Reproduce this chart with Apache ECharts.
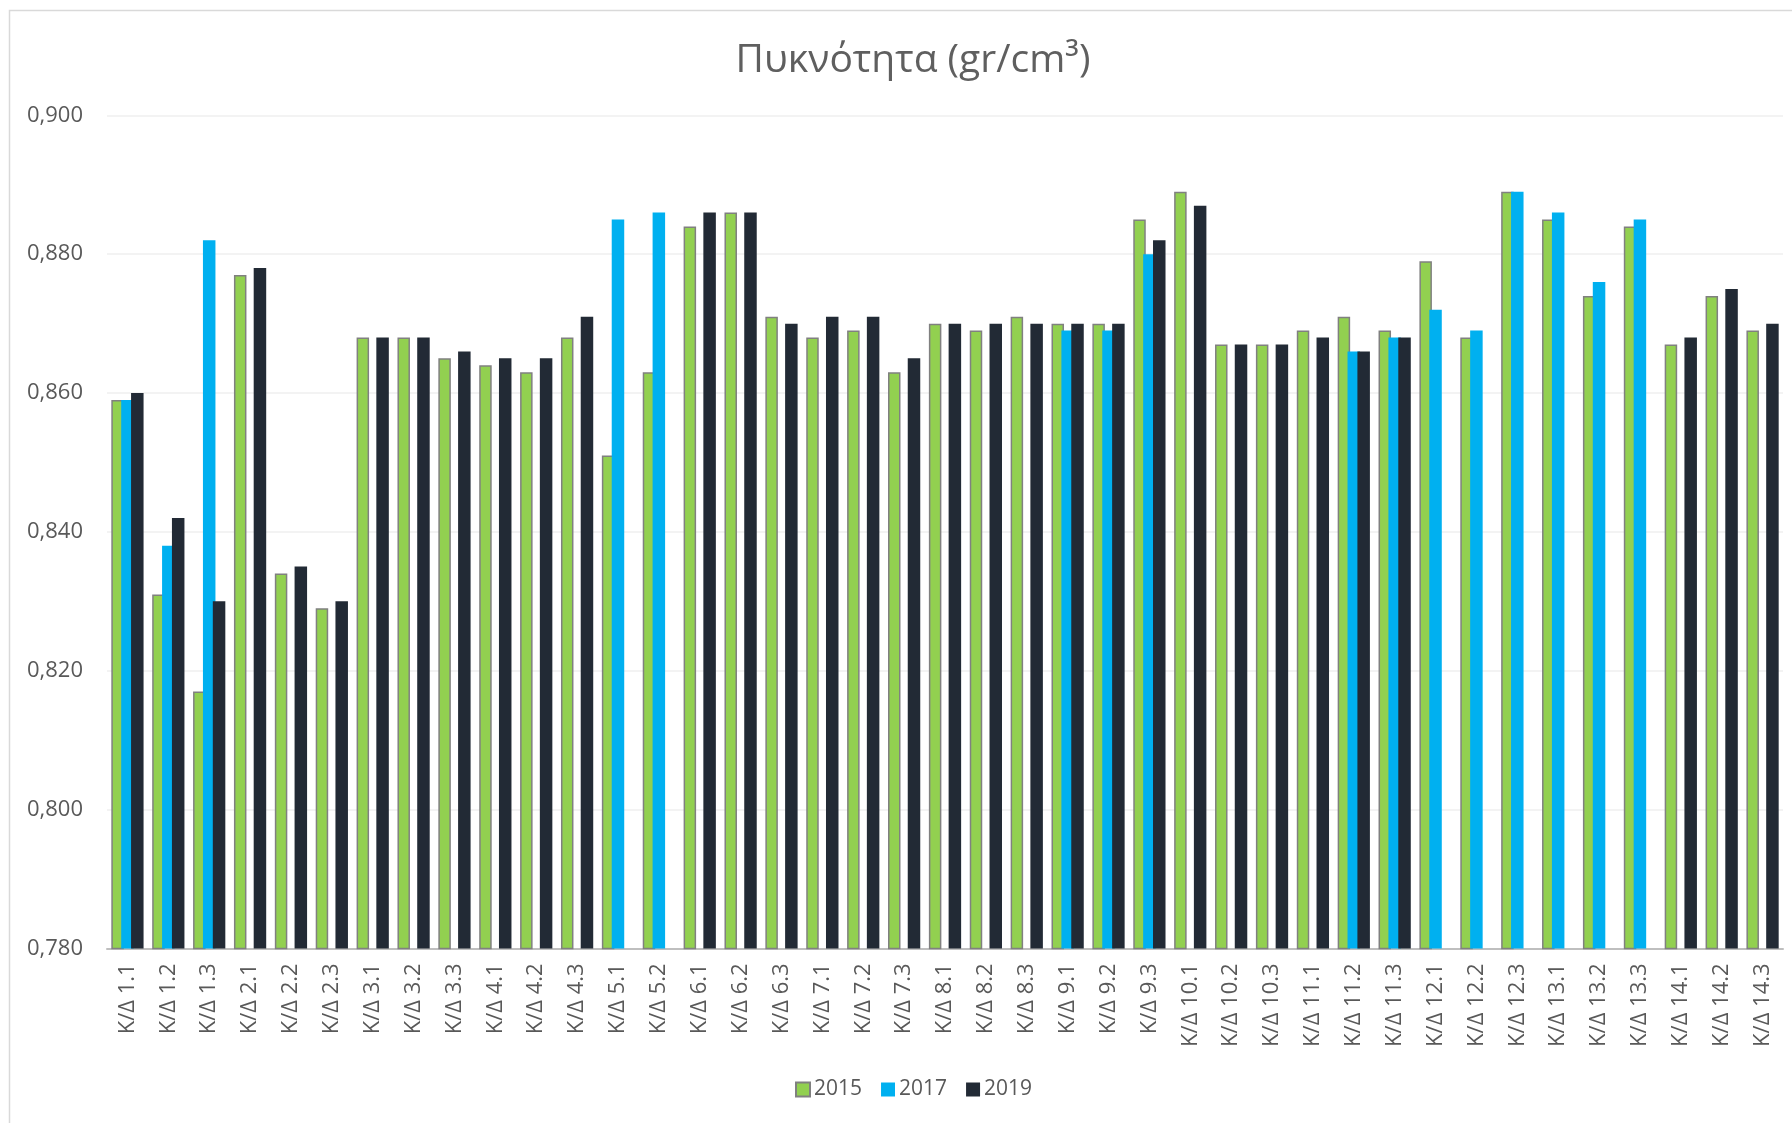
<!DOCTYPE html>
<html>
<head>
<meta charset="utf-8">
<script src="https://cdn.jsdelivr.net/npm/echarts@6/dist/echarts.min.js"></script>
<style>
html,body{margin:0;padding:0;background:#fff;}
#chart{width:1792px;height:1123px;}
</style>
</head>
<body>
<div id="chart"></div>
<script>
const categories = ['1.1','1.2','1.3','2.1','2.2','2.3','3.1','3.2','3.3','4.1','4.2','4.3','5.1','5.2','6.1','6.2','6.3','7.1','7.2','7.3','8.1','8.2','8.3','9.1','9.2','9.3','10.1','10.2','10.3','11.1','11.2','11.3','12.1','12.2','12.3','13.1','13.2','13.3','14.1','14.2','14.3'].map(s => 'Κ/Δ ' + s);
const s2015 = [0.859,0.831,0.817,0.877,0.834,0.829,0.868,0.868,0.865,0.864,0.863,0.868,0.851,0.863,0.884,0.886,0.871,0.868,0.869,0.863,0.870,0.869,0.871,0.870,0.870,0.885,0.889,0.867,0.867,0.869,0.871,0.869,0.879,0.868,0.889,0.885,0.874,0.884,0.867,0.874,0.869];
const s2017 = [0.859,0.838,0.882,null,null,null,null,null,null,null,null,null,0.885,0.886,null,null,null,null,null,null,null,null,null,0.869,0.869,0.880,null,null,null,null,0.866,0.868,0.872,0.869,0.889,0.886,0.876,0.885,null,null,null];
const s2019 = [0.860,0.842,0.830,0.878,0.835,0.830,0.868,0.868,0.866,0.865,0.865,0.871,null,null,0.886,0.886,0.870,0.871,0.871,0.865,0.870,0.870,0.870,0.870,0.870,0.882,0.887,0.867,0.867,0.868,0.866,0.868,null,null,null,null,null,null,0.868,0.875,0.870];
const seriesNames = ['2015','2017','2019'];
const yTicks = {min: 0.78, max: 0.9, interval: 0.02};

const FONT = '"Open Sans", "DejaVu Sans", sans-serif';
const TXT = '#595959';
const chart = echarts.init(document.getElementById('chart'));
const barW = 12.5;
const gap = '-21%';
chart.setOption({
  animation: false,
  backgroundColor: '#fff',
  textStyle: {fontFamily: FONT},
  title: {
    text: 'Πυκνότητα (gr/cm³)',
    left: 908, top: 36, textAlign: 'center',
    textStyle: {fontFamily: FONT, fontSize: 39, fontWeight: 'normal', color: '#5f5f5f'}
  },
  graphic: [{
    type: 'rect', silent: true, z: -10,
    shape: {x: 9.5, y: 10.5, width: 1800, height: 1130},
    style: {fill: 'none', stroke: '#d9d9d9', lineWidth: 1.5}
  }],
  legend: {
    data: seriesNames,
    left: 790, top: 1074,
    itemWidth: 14, itemHeight: 14, itemGap: 19,
    icon: 'rect',
    textStyle: {fontFamily: FONT, fontSize: 21, color: TXT, padding: [0,0,0,-1]}
  },
  grid: {left: 107, right: 9, top: 115.4, bottom: 174.6},
  xAxis: {
    type: 'category',
    data: categories,
    axisLine: {lineStyle: {color: '#bfbfbf', width: 2}},
    axisTick: {show: false},
    axisLabel: {rotate: 90, margin: 15, fontSize: 22, color: TXT, fontFamily: FONT, interval: 0}
  },
  yAxis: {
    type: 'value',
    min: yTicks.min, max: yTicks.max, interval: yTicks.interval,
    axisLine: {show: false},
    axisTick: {show: false},
    splitLine: {lineStyle: {color: '#efefef', width: 1.5}},
    axisLabel: {
      margin: 24, fontSize: 22, color: TXT, fontFamily: FONT,
      formatter: v => v.toFixed(3).replace('.', ',')
    }
  },
  series: [
    {name: seriesNames[0], type: 'bar', data: s2015, barWidth: barW, barGap: gap,
     itemStyle: {color: '#92d050', borderColor: '#808080', borderWidth: 1.5}},
    {name: seriesNames[1], type: 'bar', data: s2017, barWidth: barW, barGap: gap,
     itemStyle: {color: '#00b0f0'}},
    {name: seriesNames[2], type: 'bar', data: s2019, barWidth: barW, barGap: gap,
     itemStyle: {color: '#222a35'}}
  ]
});
</script>
</body>
</html>
